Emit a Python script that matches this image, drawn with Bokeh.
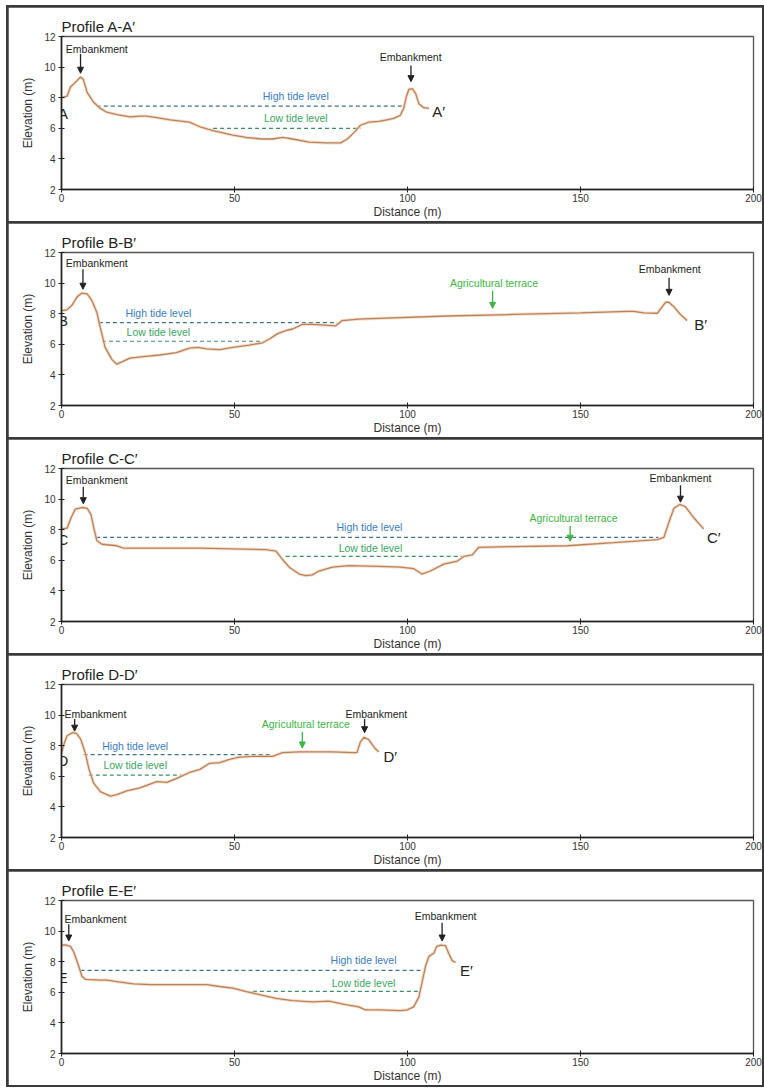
from bokeh.plotting import figure
from bokeh.layouts import column
from bokeh.models import Arrow, NormalHead
from bokeh.core.properties import value
from bokeh.embed import file_html
from bokeh.resources import INLINE

# ---------------- data ----------------
TITLES = ["Profile A-A\u2032", "Profile B-B\u2032", "Profile C-C\u2032", "Profile D-D\u2032", "Profile E-E\u2032"]
START_LABELS = ["A", "B", "C", "D", "E"]
END_LABELS = ["A\u2032", "B\u2032", "C\u2032", "D\u2032", "E\u2032"]

X_TICKS = [0, 50, 100, 150, 200]
Y_TICKS = [2, 4, 6, 8, 10, 12]

A_x = [0, 1.6, 2.6, 4, 5.5, 6.3, 7.4, 9.3, 11.2, 13.1, 16, 19.8, 22.7, 24.6, 27.5, 31.4, 37, 40, 43.8,
       49.5, 53.4, 58, 61, 63.9, 66.8, 71.6, 76.4, 80.7, 82.6, 84.9, 86.4, 88.8, 91.7, 94, 96, 97.9,
       98.9, 99.7, 100.4, 101.4, 102.4, 103.3, 104.7, 106.2]
A_y = [8.0, 8.1, 8.7, 9.0, 9.35, 9.2, 8.35, 7.7, 7.3, 7.05, 6.9, 6.75, 6.8, 6.8, 6.7, 6.55, 6.4, 6.1, 5.85,
       5.55, 5.4, 5.3, 5.3, 5.4, 5.3, 5.1, 5.05, 5.05, 5.3, 5.8, 6.2, 6.4, 6.45, 6.55, 6.65, 6.85,
       7.3, 8.1, 8.55, 8.6, 8.25, 7.6, 7.35, 7.3]

B_x = [0, 1.6, 3, 4.5, 5.9, 7.4, 8.8, 10.2, 11.2, 12.6, 14.6, 16, 17.9, 19.8, 23.7, 28.4, 33.2, 37, 39.5,
       41.9, 45.7, 49.5, 54.3, 58.1, 60.1, 62.5, 64.8, 66.8, 69.6, 72.5, 79.2, 81.1, 85.9, 91.7, 111.5,
       130.7, 150, 163.5, 165.4, 168.3, 172.2, 173.6, 174.6, 175.5, 177, 178.9, 180.8]
B_y = [8.2, 8.25, 8.55, 9.1, 9.35, 9.3, 8.85, 8.1, 7.1, 5.8, 5.0, 4.7, 4.9, 5.1, 5.2, 5.3, 5.45, 5.75, 5.8,
       5.7, 5.65, 5.8, 5.95, 6.1, 6.35, 6.7, 6.9, 7.0, 7.3, 7.3, 7.2, 7.55, 7.65, 7.7, 7.85,
       7.95, 8.05, 8.15, 8.15, 8.05, 8.03, 8.45, 8.75, 8.75, 8.45, 7.95, 7.55]

C_x = [0, 1.6, 2.8, 4, 5.9, 7.4, 8.5, 9.5, 10.2, 11.7, 16, 17.9, 25.6, 40, 49.5, 59.1, 62, 63.9, 65.8,
       68.7, 70.6, 72.5, 74.4, 78.3, 83, 91.7, 98, 101.8, 104.2, 106.6, 110.5, 114.4, 116.3, 118.7,
       120.6, 130.7, 146.2, 159.6, 172.2, 174.1, 175.5, 177, 178.7, 180.3, 182.7, 185.6]
C_y = [8.05, 8.1, 8.8, 9.35, 9.45, 9.4, 9.0, 7.95, 7.3, 7.05, 6.95, 6.8, 6.8, 6.8, 6.75, 6.7, 6.6, 6.05, 5.55,
       5.1, 5.0, 5.05, 5.3, 5.55, 5.65, 5.6, 5.55, 5.45, 5.1, 5.3, 5.75, 5.95, 6.25, 6.35,
       6.85, 6.9, 6.95, 7.15, 7.35, 7.5, 8.45, 9.4, 9.65, 9.5, 8.8, 8.05]

D_x = [0, 0.7, 1.6, 3.1, 4.3, 5.5, 6.9, 7.9, 9.3, 11.2, 14.1, 16, 18.9, 22.7, 24.6, 27.5, 30.4, 33.2, 37,
       40, 42.8, 45.7, 48.6, 51.4, 55.3, 61, 63.9, 68.7, 78.3, 84, 85.4, 86.4, 87.4, 88.8, 90.7, 91.7]
D_y = [7.5, 8.1, 8.65, 8.85, 8.8, 8.45, 7.5, 6.5, 5.55, 5.0, 4.7, 4.8, 5.05, 5.25, 5.4, 5.65, 5.6, 5.85, 6.25,
       6.45, 6.85, 6.9, 7.1, 7.25, 7.3, 7.3, 7.55, 7.6, 7.6, 7.55, 7.55, 8.25, 8.55, 8.4, 7.8, 7.6]

E_x = [0, 1.1, 2.6, 3.5, 4.7, 5.9, 6.9, 11.2, 13.1, 16, 20.8, 25.6, 30.4, 35.2, 41.9, 45.7, 49.5, 53.4,
       56.3, 62, 66.8, 72.5, 77.3, 82.1, 85.9, 87.8, 91.7, 98, 99.9, 101.8, 103.3, 104.2, 105.2, 106.2,
       107.6, 108.4, 109.5, 111, 111.9, 112.9, 113.9]
E_y = [9.08, 9.1, 9.0, 8.65, 7.9, 7.05, 6.85, 6.8, 6.8, 6.7, 6.55, 6.5, 6.5, 6.5, 6.5, 6.38, 6.27, 6.05,
       5.9, 5.6, 5.45, 5.38, 5.42, 5.2, 5.05, 4.85, 4.85, 4.8, 4.85, 5.05, 5.7, 6.65, 7.7, 8.35,
       8.55, 8.98, 9.08, 9.05, 8.55, 8.07, 7.95]

PROFILE_X = [A_x, B_x, C_x, D_x, E_x]
PROFILE_Y = [A_y, B_y, C_y, D_y, E_y]

# tide levels (elevation) and their extents along the profile
HIGH_TIDE = [7.45, 7.42, 7.5, 7.42, 7.43]
HIGH_FROM = [10.2, 10.8, 10.0, 6.4, 5.5]
HIGH_TO = [99.0, 79.7, 172.5, 61.0, 104.2]
LOW_TIDE = [6.0, 6.2, 6.26, 6.08, 6.06]
LOW_FROM = [43.8, 11.7, 64.8, 7.9, 55.3]
LOW_TO = [86.4, 58.1, 115.8, 34.7, 103.3]

# ---------------- annotation placement ----------------
TIDE_TEXT_POS = [((67.7, 8.1), (67.7, 6.65)), ((28, 8.03), (28, 6.8)), ((89, 8.2), (89.3, 6.83)),
                 ((21.3, 8.0), (21.3, 6.73)), ((87.3, 8.09), (87.3, 6.6))]
# (label, text_x, text_y, arrow_x, arrow_y0, arrow_y1, kind)
NOTES = [
    [("Embankment", 10.2, 11.2, 5.5, 10.85, 9.6, "k"), ("Embankment", 100.9, 10.63, 101, 10.1, 9.05, "k")],
    [("Embankment", 10.2, 11.3, 6.2, 10.9, 9.6, "k"), ("Embankment", 175.8, 10.95, 175.6, 10.35, 9.2, "k"),
     ("Agricultural terrace", 125, 10.0, 124.6, 9.5, 8.35, "g")],
    [("Embankment", 10.2, 11.25, 6.3, 10.8, 9.7, "k"), ("Embankment", 178.9, 11.35, 178.9, 10.9, 9.8, "k"),
     ("Agricultural terrace", 148, 8.75, 147, 8.25, 7.25, "g")],
    [("Embankment", 9.8, 10.06, 3.8, 9.75, 8.95, "k"), ("Embankment", 91, 10.06, 87.6, 9.75, 8.85, "k"),
     ("Agricultural terrace", 70.6, 9.4, 69.6, 8.9, 7.85, "g")],
    [("Embankment", 9.8, 10.77, 2.1, 10.45, 9.35, "k"), ("Embankment", 111, 10.98, 110, 10.55, 9.35, "k")],
]
START_POS = [(0.4, 7.0), (0.4, 7.55), (0.4, 7.35), (0.4, 7.05), (0.3, 6.97)]
END_POS = [(109, 7.1), (184.7, 7.3), (188.5, 7.5), (95, 7.27), (117, 7.4)]

FONT = value("Liberation Sans")
W, H = 754, 214
LINE_COLOR = "#b9825a"
HALO_COLOR = "#f2d2b8"
HIGH_LINE = "#3f7396"
LOW_LINE = "#3d8f66"
HIGH_TXT = "#3c7dbf"
LOW_TXT = "#3aa562"
GREEN = "#3db545"
FRAME = "#3a3a3a"


def make_panel(i):
    p = figure(width=W, height=H, x_range=(0, 200), y_range=(2, 12),
               output_backend="svg", toolbar_location=None,
               min_border_left=53, min_border_right=9, min_border_top=29, min_border_bottom=28,
               margin=(0, 2, 2, 2))
    p.title.text = TITLES[i]
    p.title.text_font = "Liberation Sans"
    p.title.text_font_size = "15px"
    p.title.text_font_style = "normal"
    p.title.text_color = "#222222"
    p.title.align = "left"
    p.title.standoff = 3

    p.xgrid.visible = False
    p.ygrid.visible = False
    p.outline_line_color = "#555555"
    p.outline_line_width = 1.3

    p.xaxis.ticker = X_TICKS
    p.yaxis.ticker = Y_TICKS
    for ax in (p.xaxis, p.yaxis):
        ax.axis_line_color = "#222222"
        ax.axis_line_width = 1.6
        ax.major_tick_line_color = "#222222"
        ax.major_tick_in = 3
        ax.major_tick_out = 3
        ax.minor_tick_line_color = None
        ax.major_label_text_font = "Liberation Sans"
        ax.major_label_text_font_size = "10px"
        ax.major_label_text_color = "#333333"
        ax.axis_label_text_font = "Liberation Sans"
        ax.axis_label_text_font_size = "12px"
        ax.axis_label_text_font_style = "normal"
        ax.axis_label_text_color = "#333333"
    p.xaxis.axis_label = "Distance (m)"
    p.yaxis.axis_label = "Elevation (m)"
    p.xaxis.axis_label_standoff = 0
    p.xaxis.major_label_standoff = 1
    p.yaxis.axis_label_standoff = 6
    p.yaxis.major_label_standoff = 3

    # tide levels
    p.line([HIGH_FROM[i], HIGH_TO[i]], [HIGH_TIDE[i], HIGH_TIDE[i]], line_color=HIGH_LINE,
           line_width=1.2, line_dash="4 3")
    p.line([LOW_FROM[i], LOW_TO[i]], [LOW_TIDE[i], LOW_TIDE[i]], line_color=LOW_LINE,
           line_width=1.2, line_dash="4 3")
    (hx, hy), (lx, ly) = TIDE_TEXT_POS[i]
    p.text([hx], [hy], text=["High tide level"], text_font=FONT, text_font_size="10.5px",
           text_color=HIGH_TXT, text_align="center", text_baseline="middle")
    p.text([lx], [ly], text=["Low tide level"], text_font=FONT, text_font_size="10.5px",
           text_color=LOW_TXT, text_align="center", text_baseline="middle")

    # profile
    p.line(PROFILE_X[i], PROFILE_Y[i], line_color=HALO_COLOR, line_width=3.2, line_alpha=0.7)
    p.line(PROFILE_X[i], PROFILE_Y[i], line_color=LINE_COLOR, line_width=1.3)

    # annotations
    for (lab, tx, ty, ax_, y0, y1, kind) in NOTES[i]:
        col = "#222222" if kind == "k" else GREEN
        p.text([tx], [ty], text=[lab], text_font=FONT, text_font_size="10.5px",
               text_color=col, text_align="center", text_baseline="middle")
        p.add_layout(Arrow(end=NormalHead(size=6, fill_color=col, line_color=col),
                           x_start=ax_, y_start=y0, x_end=ax_, y_end=y1,
                           line_color=col, line_width=1.3))

    sx, sy = START_POS[i]
    ex, ey = END_POS[i]
    p.text([sx], [sy], text=[START_LABELS[i]], text_font=FONT, text_font_size="15px",
           text_color="#222222", text_align="center", text_baseline="middle")
    p.text([ex], [ey], text=[END_LABELS[i]], text_font=FONT, text_font_size="15px",
           text_color="#222222", text_align="center", text_baseline="middle")
    return p


panels = [make_panel(i) for i in range(5)]
layout = column(*panels, spacing=0, margin=(5, 0, 0, 6),
                styles={"background-color": FRAME, "padding-top": "2px"})
open("out.html", "w").write(file_html(layout, INLINE))
